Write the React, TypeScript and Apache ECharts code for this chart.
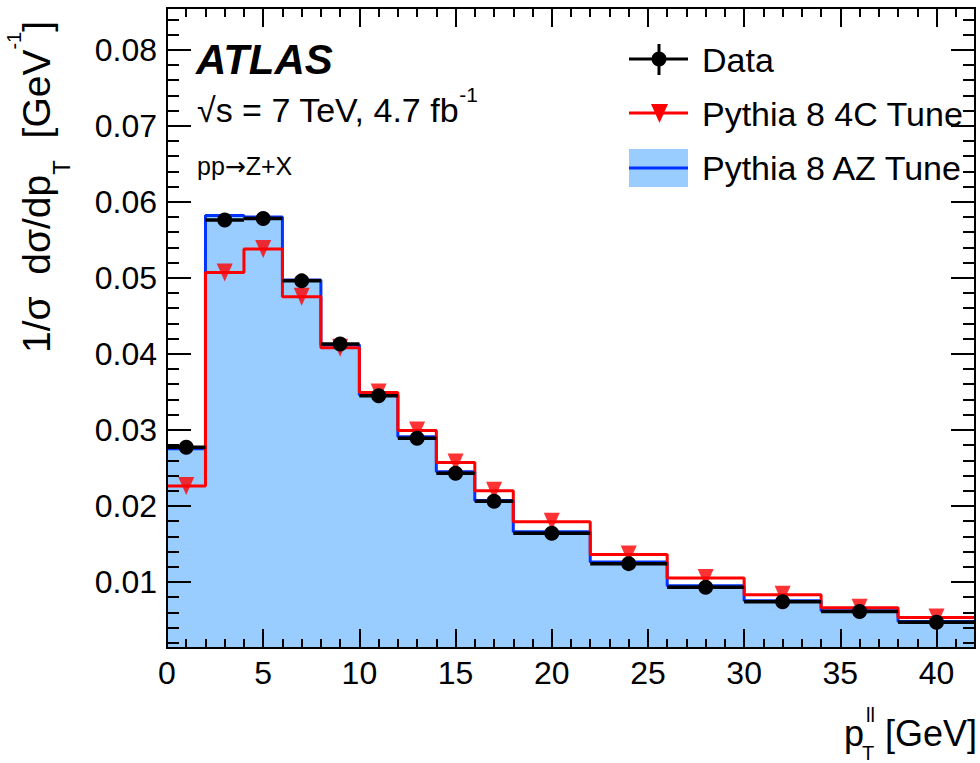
import React, { useEffect, useRef } from 'react';
import * as echarts from 'echarts';

// Bin edges of pT(ll) in GeV
const binEdges = [0, 2, 4, 6, 8, 10, 12, 14, 16, 18, 22, 26, 30, 34, 38, 42];
// Measured data
const dataValues = [0.0277, 0.0576, 0.0578, 0.0496, 0.0413, 0.0345, 0.0289, 0.0243, 0.0206, 0.0164, 0.0124, 0.0093, 0.0074, 0.0061, 0.0047];
// Pythia 8 4C tune
const tune4CValues = [0.0226, 0.0507, 0.0538, 0.0475, 0.0408, 0.0349, 0.0299, 0.0257, 0.0220, 0.0179, 0.0136, 0.0105, 0.0083, 0.0066, 0.0053];
// Pythia 8 AZ tune
const tuneAZValues = [0.0275, 0.0582, 0.0580, 0.0497, 0.0412, 0.0346, 0.0291, 0.0245, 0.0207, 0.0166, 0.0126, 0.0095, 0.0075, 0.0062, 0.0048];

// Tick labels
const xMajorTicks = [0, 5, 10, 15, 20, 25, 30, 35, 40];
const xMinorTicks = [1, 2, 3, 4, 6, 7, 8, 9, 11, 12, 13, 14, 16, 17, 18, 19, 21, 22, 23, 24, 26, 27, 28, 29, 31, 32, 33, 34, 36, 37, 38, 39, 41];
const yMajorTicks = [0.01, 0.02, 0.03, 0.04, 0.05, 0.06, 0.07, 0.08];
const yMinorStep = 0.002;
const yMinorTicks = Array.from({ length: 42 }, (_, i) => +((i + 1) * yMinorStep).toFixed(3));

const X_MIN = 0;
const X_MAX = 42;
const Y_MIN = 0.0013;
const Y_MAX = 0.0855;

const FAMILY = '"Liberation Sans", Arial, Helvetica, sans-serif';

function stepData(values: number[]) {
  const pts = values.map((v, i) => [binEdges[i], v]);
  pts.push([binEdges[binEdges.length - 1], values[values.length - 1]]);
  return pts;
}

function measure(text: string, size: number) {
  const ctx = document.createElement('canvas').getContext('2d');
  if (!ctx) return text.length * size * 0.55;
  ctx.font = `${size}px ${FAMILY}`;
  return ctx.measureText(text).width;
}

function xAxisDef(position: 'bottom' | 'top', ticks: number[], len: number, labels: boolean) {
  return {
    type: 'value',
    position,
    min: X_MIN,
    max: X_MAX,
    z: 10,
    axisLine: { show: true, onZero: false, lineStyle: { color: '#000', width: 2 } },
    axisTick: { show: true, inside: true, length: len, customValues: ticks, lineStyle: { color: '#000', width: 2 } },
    axisLabel: labels
      ? { show: true, customValues: xMajorTicks, fontSize: 32, color: '#000', fontFamily: FAMILY, margin: 9 }
      : { show: false },
    splitLine: { show: false },
    minorTick: { show: false },
  };
}

function yAxisDef(position: 'left' | 'right', ticks: number[], len: number, labels: boolean) {
  return {
    type: 'value',
    position,
    min: Y_MIN,
    max: Y_MAX,
    z: 10,
    axisLine: { show: true, onZero: false, lineStyle: { color: '#000', width: 2 } },
    axisTick: { show: true, inside: true, length: len, customValues: ticks, lineStyle: { color: '#000', width: 2 } },
    axisLabel: labels
      ? {
          show: true,
          customValues: yMajorTicks,
          fontSize: 32,
          color: '#000',
          fontFamily: FAMILY,
          margin: 10,
          formatter: (v: number) => v.toFixed(2),
        }
      : { show: false },
    splitLine: { show: false },
    minorTick: { show: false },
  };
}

function yTitleGroup() {
  const F = 39;
  const FS = 24;
  const FP = 20;
  const parts = [
    { t: '1/σ  dσ/dp', size: F, dy: 0 },
    { t: 'T', size: FS, dy: 25 },
    { t: '  [GeV', size: F, dy: 0 },
    { t: '-1', size: FP, dy: -22 },
    { t: ']', size: F, dy: 0 },
  ];
  const widths = parts.map((p) => measure(p.t, p.size));
  const total = widths.reduce((a, b) => a + b, 0);
  let pos = -total / 2;
  const children = parts.map((p, i) => {
    const el = {
      type: 'text',
      x: pos,
      y: p.dy,
      style: { text: p.t, fontSize: p.size, fontFamily: FAMILY, fill: '#000', align: 'left', verticalAlign: 'middle' },
    };
    pos += widths[i];
    return el;
  });
  return { type: 'group', x: 36, y: 187, rotation: Math.PI / 2, children };
}

export default function App() {
  const ref = useRef<HTMLDivElement>(null);

  useEffect(() => {
    document.body.style.margin = '0';
    if (!ref.current) return;
    const chart = echarts.init(ref.current, null, { renderer: 'svg' });

    const centers = dataValues.map((_, i) => (binEdges[i] + binEdges[i + 1]) / 2);

    const option: any = {
      animation: false,
      backgroundColor: '#ffffff',
      grid: { left: 167, right: 5, top: 8, bottom: 115, containLabel: false, outerBoundsMode: 'none' },
      xAxis: [
        xAxisDef('bottom', xMajorTicks, 19, true),
        xAxisDef('bottom', xMinorTicks, 9, false),
        xAxisDef('top', xMajorTicks, 19, false),
        xAxisDef('top', xMinorTicks, 9, false),
      ],
      yAxis: [
        yAxisDef('left', yMajorTicks, 24, true),
        yAxisDef('left', yMinorTicks, 12, false),
        yAxisDef('right', yMajorTicks, 24, false),
        yAxisDef('right', yMinorTicks, 12, false),
      ],
      series: [
        {
          type: 'line',
          name: 'Pythia 8 AZ Tune',
          xAxisIndex: 0,
          yAxisIndex: 0,
          step: 'end',
          data: stepData(tuneAZValues),
          symbol: 'none',
          lineStyle: { color: '#0033ff', width: 3 },
          areaStyle: { color: '#99ccff', opacity: 1 },
          z: 2,
        },
        {
          type: 'line',
          name: 'Pythia 8 4C Tune',
          xAxisIndex: 0,
          yAxisIndex: 0,
          step: 'end',
          data: stepData(tune4CValues),
          symbol: 'none',
          lineStyle: { color: '#ff0000', width: 3 },
          z: 3,
        },
        {
          type: 'scatter',
          name: 'Pythia 8 4C Tune markers',
          xAxisIndex: 0,
          yAxisIndex: 0,
          data: centers.map((c, i) => [c, tune4CValues[i]]),
          symbol: 'triangle',
          symbolRotate: 180,
          symbolSize: [16, 18],
          itemStyle: { color: '#ff0000' },
          z: 4,
        },
        {
          type: 'custom',
          name: 'Data',
          xAxisIndex: 0,
          yAxisIndex: 0,
          data: dataValues.map((v, i) => [binEdges[i], binEdges[i + 1], v]),
          encode: { x: [0, 1], y: 2 },
          z: 5,
          renderItem: (params: any, api: any) => {
            const lo = api.value(0);
            const hi = api.value(1);
            const v = api.value(2);
            const p1 = api.coord([lo, v]);
            const p2 = api.coord([hi, v]);
            const c = api.coord([(lo + hi) / 2, v]);
            return {
              type: 'group',
              children: [
                {
                  type: 'line',
                  shape: { x1: p1[0], y1: p1[1], x2: p2[0], y2: p2[1] },
                  style: { stroke: '#000', lineWidth: 3.5 },
                },
                {
                  type: 'circle',
                  shape: { cx: c[0], cy: c[1], r: 7.5 },
                  style: { fill: '#000' },
                },
              ],
            };
          },
        },
      ],
      graphic: [
        // ATLAS label
        {
          type: 'text',
          x: 196,
          y: 59,
          style: { text: 'ATLAS', fontSize: 42, fontWeight: 'bold', fontStyle: 'italic', fontFamily: FAMILY, fill: '#000', align: 'left', verticalAlign: 'middle' },
        },
        {
          type: 'text',
          x: 197,
          y: 110,
          style: {
            text: '√s = 7 TeV, 4.7 fb{sup|-1}',
            fontSize: 34,
            fontFamily: FAMILY,
            fill: '#000',
            align: 'left',
            verticalAlign: 'middle',
            rich: { sup: { fontSize: 21, fontFamily: FAMILY, fill: '#000', padding: [0, 0, 32, 0], verticalAlign: 'middle' } },
          },
        },
        {
          type: 'text',
          x: 197,
          y: 166,
          style: {
            text: 'pp{a|→}Z+X',
            fontSize: 25,
            fontFamily: FAMILY,
            fill: '#000',
            align: 'left',
            verticalAlign: 'middle',
            rich: { a: { fontSize: 25, fontFamily: '"DejaVu Sans", sans-serif', fill: '#000', verticalAlign: 'middle' } },
          },
        },
        // Y axis title
        yTitleGroup(),
        // X axis title
        {
          type: 'text',
          x: 977,
          y: 733,
          style: { text: '[GeV]', fontSize: 36, fontFamily: FAMILY, fill: '#000', align: 'right', verticalAlign: 'middle' },
        },
        {
          type: 'text',
          x: 844,
          y: 733,
          style: { text: 'p', fontSize: 36, fontFamily: FAMILY, fill: '#000', align: 'left', verticalAlign: 'middle' },
        },
        {
          type: 'text',
          x: 866,
          y: 715,
          style: { text: 'll', fontSize: 20, fontFamily: FAMILY, fill: '#000', align: 'left', verticalAlign: 'middle' },
        },
        {
          type: 'text',
          x: 862,
          y: 753,
          style: { text: 'T', fontSize: 20, fontFamily: FAMILY, fill: '#000', align: 'left', verticalAlign: 'middle' },
        },
        // Legend: Data
        { type: 'line', shape: { x1: 629, y1: 59, x2: 688, y2: 59 }, style: { stroke: '#000', lineWidth: 3 } },
        { type: 'line', shape: { x1: 659, y1: 44, x2: 659, y2: 75 }, style: { stroke: '#000', lineWidth: 3 } },
        { type: 'circle', shape: { cx: 659, cy: 59, r: 7.5 }, style: { fill: '#000' } },
        { type: 'text', x: 702, y: 60, style: { text: 'Data', fontSize: 34, fontFamily: FAMILY, fill: '#000', align: 'left', verticalAlign: 'middle' } },
        // Legend: 4C
        { type: 'line', shape: { x1: 629, y1: 113, x2: 688, y2: 113 }, style: { stroke: '#ff0000', lineWidth: 3 } },
        { type: 'polygon', shape: { points: [[651, 104], [668, 104], [659.5, 123]] }, style: { fill: '#ff0000' } },
        { type: 'text', x: 702, y: 114, style: { text: 'Pythia 8 4C Tune', fontSize: 34, fontFamily: FAMILY, fill: '#000', align: 'left', verticalAlign: 'middle' } },
        // Legend: AZ
        { type: 'rect', shape: { x: 629, y: 149, width: 59, height: 38 }, style: { fill: '#99ccff' } },
        { type: 'line', shape: { x1: 629, y1: 168, x2: 688, y2: 168 }, style: { stroke: '#0033ff', lineWidth: 3 } },
        { type: 'text', x: 702, y: 168, style: { text: 'Pythia 8 AZ Tune', fontSize: 34, fontFamily: FAMILY, fill: '#000', align: 'left', verticalAlign: 'middle' } },
      ],
    };

    chart.setOption(option);
    return () => chart.dispose();
  }, []);

  return <div ref={ref} style={{ position: 'fixed', left: 0, top: 0, width: 980, height: 763, background: '#fff' }} />;
}
